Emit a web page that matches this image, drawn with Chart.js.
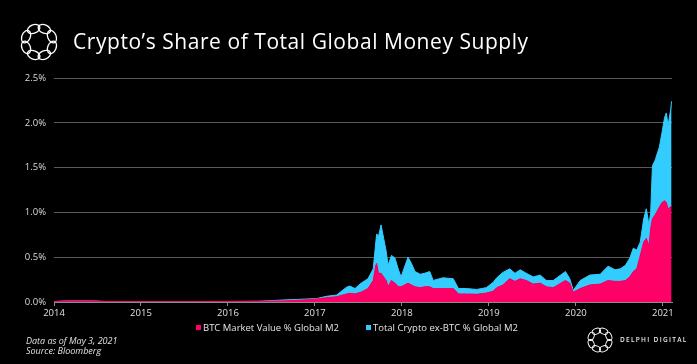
<!DOCTYPE html>
<html>
<head>
<meta charset="utf-8">
<script src="https://cdn.jsdelivr.net/npm/chart.js@4"></script>
<style>
  html, body { margin: 0; padding: 0; background: #000; }
  #wrap { position: relative; width: 697px; height: 364px; background: #000; overflow: hidden; font-family: "Open Sans", sans-serif; }
  #chart { position: absolute; left: 0; top: 0; }
  .title { position: absolute; left: 73px; top: 30px; font-size: 21px; line-height: 22px; letter-spacing: 0.55px; color: #fff; white-space: nowrap; }
  .legend { position: absolute; top: 322px; font-size: 9.5px; line-height: 12px; color: #e6e6e6; white-space: nowrap; }
  .legend i { display: inline-block; width: 5px; height: 5px; margin-right: 2px; vertical-align: 1px; }
  .note { position: absolute; left: 26px; top: 335.5px; font-size: 9px; line-height: 10.5px; font-style: italic; color: #e0e0e0; white-space: nowrap; }
  .brand { position: absolute; left: 620px; top: 335px; font-size: 6.5px; line-height: 9px; letter-spacing: 1.3px; color: #e6e6e6; font-weight: 600; white-space: nowrap; }
  svg.logo { position: absolute; }
</style>
</head>
<body>
<div id="wrap">
  <canvas id="chart" width="697" height="364"></canvas>
  <svg class="logo" id="logoBig" style="left:18px;top:21px" width="42" height="42"></svg>
  <div class="title">Crypto’s Share of Total Global Money Supply</div>
  <div class="legend" style="left:196px"><i style="background:#ff0066"></i>BTC Market Value % Global M2</div>
  <div class="legend" style="left:366px"><i style="background:#33ccff"></i>Total Crypto ex-BTC % Global M2</div>
  <div class="note">Data as of May 3, 2021<br>Source: Bloomberg</div>
  <svg class="logo" id="logoSmall" style="left:586px;top:326px" width="28" height="28"></svg>
  <div class="brand">DELPHI DIGITAL</div>
</div>
<script>
// dates as decimal years, values in % of global M2
var dates = [
  2014.00, 2014.15, 2014.45, 2014.60, 2015.00, 2015.70, 2016.35, 2016.63, 2016.82, 2017.02,
  2017.13, 2017.25, 2017.36, 2017.40, 2017.46, 2017.53, 2017.61, 2017.67, 2017.70, 2017.71,
  2017.73, 2017.76, 2017.79, 2017.82, 2017.84, 2017.88, 2017.92, 2017.96, 2017.99, 2018.03,
  2018.07, 2018.11, 2018.15, 2018.21, 2018.26, 2018.32, 2018.36, 2018.47, 2018.59, 2018.65,
  2018.74, 2018.86, 2018.97, 2019.05, 2019.09, 2019.16, 2019.24, 2019.30, 2019.36, 2019.43,
  2019.51, 2019.59, 2019.66, 2019.74, 2019.88, 2019.93, 2019.97, 2020.05, 2020.16, 2020.28,
  2020.37, 2020.45, 2020.51, 2020.57, 2020.62, 2020.66, 2020.70, 2020.74, 2020.78, 2020.81,
  2020.84, 2020.86, 2020.88, 2020.91, 2020.96, 2020.99, 2021.02, 2021.04, 2021.06, 2021.09,
  2021.10
];
var btcShare = [
  0.005, 0.012, 0.012, 0.005, 0.004, 0.004, 0.008, 0.012, 0.020, 0.033,
  0.048, 0.059, 0.089, 0.097, 0.090, 0.110, 0.150, 0.240, 0.410, 0.430,
  0.320, 0.320, 0.280, 0.240, 0.170, 0.240, 0.210, 0.170, 0.170, 0.190,
  0.210, 0.190, 0.170, 0.160, 0.170, 0.170, 0.150, 0.150, 0.150, 0.090,
  0.090, 0.086, 0.100, 0.120, 0.160, 0.190, 0.260, 0.230, 0.260, 0.240,
  0.200, 0.210, 0.170, 0.160, 0.240, 0.210, 0.110, 0.150, 0.190, 0.200,
  0.240, 0.230, 0.230, 0.240, 0.280, 0.340, 0.370, 0.520, 0.670, 0.710,
  0.630, 0.820, 0.930, 0.970, 1.060, 1.110, 1.130, 1.110, 1.040, 1.060,
  1.080
];
var exBtcShare = [
  0.000, 0.000, 0.000, 0.000, 0.000, 0.000, 0.000, 0.010, 0.010, 0.005,
  0.015, 0.019, 0.074, 0.081, 0.060, 0.100, 0.110, 0.130, 0.260, 0.330,
  0.410, 0.540, 0.430, 0.320, 0.240, 0.280, 0.280, 0.190, 0.110, 0.200,
  0.290, 0.240, 0.170, 0.150, 0.150, 0.170, 0.090, 0.120, 0.110, 0.060,
  0.060, 0.054, 0.060, 0.100, 0.110, 0.140, 0.110, 0.090, 0.100, 0.080,
  0.080, 0.090, 0.070, 0.080, 0.100, 0.050, 0.020, 0.090, 0.110, 0.110,
  0.160, 0.130, 0.140, 0.170, 0.210, 0.260, 0.210, 0.150, 0.260, 0.330,
  0.230, 0.180, 0.590, 0.610, 0.670, 0.780, 0.930, 1.000, 0.930, 1.090,
  1.160
];
var yearTicks = [2014, 2015, 2016, 2017, 2018, 2019, 2020, 2021];
var pctTicks = [0, 0.5, 1.0, 1.5, 2.0, 2.5];

function toPoints(values) {
  return values.map(function (v, i) {
    return { x: dates[i], y: v };
  });
}

// ring logo: 8 small ovals around a circle
function drawLogo(id, size, ringR, rx, ry, sw) {
  var svg = document.getElementById(id);
  var c = size / 2;
  var html = "";
  for (var k = 0; k < 8; k++) {
    var a = (k * 45 + 22.5) * Math.PI / 180;
    var cx = c + ringR * Math.cos(a);
    var cy = c + ringR * Math.sin(a);
    var deg = k * 45 + 22.5 + 90;
    html += '<ellipse cx="' + cx.toFixed(2) + '" cy="' + cy.toFixed(2) + '" rx="' + rx + '" ry="' + ry +
      '" transform="rotate(' + deg + ' ' + cx.toFixed(2) + ' ' + cy.toFixed(2) + ')" fill="none" stroke="#fff" stroke-width="' + sw + '"/>';
  }
  svg.innerHTML = html;
}
drawLogo("logoBig", 42, 14, 6.5, 4.2, 1.3);
drawLogo("logoSmall", 28, 9.5, 4.3, 2.8, 0.9);

Chart.defaults.font.family = '"Open Sans", sans-serif';
Chart.defaults.color = "#d9d9d9";

var ctx = document.getElementById("chart");
var chart = new Chart(ctx, {
  type: "line",
  data: {
    datasets: [
      {
        label: "BTC Market Value % Global M2",
        data: toPoints(btcShare),
        backgroundColor: "#ff0066",
        borderColor: "#ff0066",
        borderWidth: 1,
        pointRadius: 0,
        fill: "origin",
        tension: 0,
      },
      {
        label: "Total Crypto ex-BTC % Global M2",
        data: toPoints(exBtcShare),
        backgroundColor: "#33ccff",
        borderColor: "#33ccff",
        borderWidth: 1,
        pointRadius: 0,
        fill: "-1",
        tension: 0,
      },
    ],
  },
  options: {
    responsive: false,
    animation: false,
    layout: { padding: { left: 0, right: 25, top: 78, bottom: 42 } },
    plugins: {
      legend: { display: false },
      tooltip: { enabled: false },
    },
    scales: {
      x: {
        type: "linear",
        min: 2014,
        max: 2021.105,
        afterBuildTicks: function (scale) {
          scale.ticks = yearTicks.map(function (v) { return { value: v }; });
        },
        afterFit: function (scale) { scale.height = 20; },
        ticks: {
          font: { size: 9.5 },
          color: "#e0e0e0",
          padding: 2,
          maxRotation: 0,
          callback: function (v) { return String(v); },
        },
        grid: { drawOnChartArea: false, drawTicks: true, tickLength: 4, color: "#8c8c8c" },
        border: { display: true, color: "#8c8c8c" },
      },
      y: {
        stacked: true,
        min: 0,
        max: 2.5,
        afterBuildTicks: function (scale) {
          scale.ticks = pctTicks.map(function (v) { return { value: v }; });
        },
        afterFit: function (scale) { scale.width = 54; },
        ticks: {
          font: { size: 9.5 },
          color: "#d9d9d9",
          padding: 8,
          callback: function (v) { return v.toFixed(1) + "%"; },
        },
        grid: { color: "#5a5a5a", drawTicks: false },
        border: { display: false },
      },
    },
  },
});
</script>
</body>
</html>
